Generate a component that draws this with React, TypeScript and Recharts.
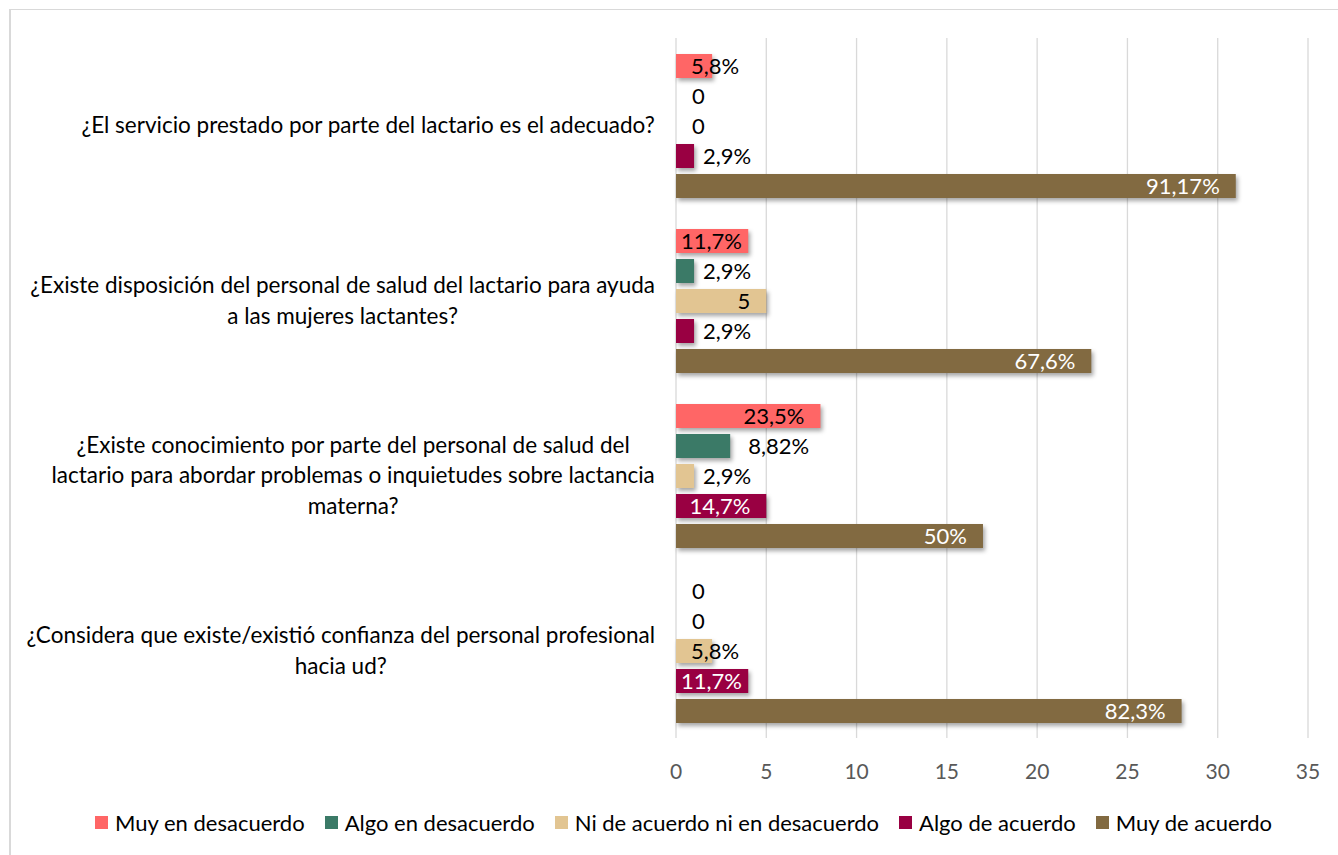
import React from 'react';
import { BarChart, Bar, XAxis, YAxis, CartesianGrid, Legend, LabelList } from 'recharts';

const categories = [
  '¿El servicio prestado por parte del lactario es el adecuado?',
  '¿Existe disposición del personal de salud del lactario para ayuda\na las mujeres lactantes?',
  '¿Existe conocimiento por parte del personal de salud del\nlactario para abordar problemas o inquietudes sobre lactancia\nmaterna?',
  '¿Considera que existe/existió confianza del personal profesional\nhacia ud?',
];

const muyDesacuerdo = [2, 4, 8, 0];
const algoDesacuerdo = [0, 1, 3, 0];
const niNi = [0, 5, 1, 2];
const algoAcuerdo = [1, 1, 5, 4];
const muyAcuerdo = [31, 23, 17, 28];

const muyDesacuerdoLabels = ['5,8%', '11,7%', '23,5%', '0'];
const algoDesacuerdoLabels = ['0', '2,9%', '8,82%', '0'];
const niNiLabels = ['0', '5', '2,9%', '5,8%'];
const algoAcuerdoLabels = ['2,9%', '2,9%', '14,7%', '11,7%'];
const muyAcuerdoLabels = ['91,17%', '67,6%', '50%', '82,3%'];

const xTicks = [0, 5, 10, 15, 20, 25, 30, 35];

const series = [
  { key: 'md', name: 'Muy en desacuerdo', color: '#FF6666', values: muyDesacuerdo, labels: muyDesacuerdoLabels, inside: '#000000' },
  { key: 'ad', name: 'Algo en desacuerdo', color: '#3B7A67', values: algoDesacuerdo, labels: algoDesacuerdoLabels, inside: '#000000' },
  { key: 'ni', name: 'Ni de acuerdo ni en desacuerdo', color: '#E2C592', values: niNi, labels: niNiLabels, inside: '#000000' },
  { key: 'aa', name: 'Algo de acuerdo', color: '#990042', values: algoAcuerdo, labels: algoAcuerdoLabels, inside: '#FFFFFF' },
  { key: 'ma', name: 'Muy de acuerdo', color: '#826A41', values: muyAcuerdo, labels: muyAcuerdoLabels, inside: '#FFFFFF' },
];

const data = categories.map((name, i) => {
  const row: any = { name };
  series.forEach((s) => { row[s.key] = s.values[i]; });
  return row;
});

const FONT = 'Lato, "Open Sans", sans-serif';
const FS = 22.5;
const LFS = 22;
const TFS = 21;
const LEGFS = 22;

let ctx: CanvasRenderingContext2D | null = null;
function tw(s: string, size = FS) {
  if (!ctx) ctx = document.createElement('canvas').getContext('2d');
  if (!ctx) return s.length * size * 0.5;
  ctx.font = `${size}px Lato`;
  return ctx.measureText(s).width;
}

function CatTick(props: any) {
  const { x, y, payload } = props;
  const lines = String(payload.value).split('\n');
  const maxW = Math.max(...lines.map((l) => tw(l)));
  const cx = x - 21 - maxW / 2;
  const lh = 30.5;
  const y0 = y - ((lines.length - 1) * lh) / 2;
  return (
    <text x={cx} y={y0} textAnchor="middle" fontFamily={FONT} fontSize={FS} fill="#000">
      {lines.map((l, i) => (
        <tspan key={i} x={cx} y={y0 + i * lh} dy="0.35em">{l}</tspan>
      ))}
    </text>
  );
}

function makeLabel(labels: string[], insideColor: string) {
  return (props: any) => {
    const vb = props.viewBox && props.viewBox.width !== undefined ? props.viewBox : props;
    const x = Number(vb.x);
    const y = Number(vb.y);
    const width = Number(vb.width) || 0;
    const height = Number(vb.height) || 0;
    const text = labels[props.index];
    const w = tw(text, LFS);
    const end = x + width;
    let tx: number;
    let fill = '#000';
    if (width < 1) tx = end + 16;
    else if (width < 25) tx = end + 9;
    else if (width < 45) tx = end + 3 - w / 2;
    else if (width < w + 10) tx = end + 18;
    else {
      tx = Math.max(x + 5, end - 16 - w);
      fill = insideColor;
    }
    return (
      <text x={tx} y={y + height / 2} dy="0.35em" fill={fill} fontFamily={FONT} fontSize={LFS}>
        {text}
      </text>
    );
  };
}

const ShadowRect = (props: any) => {
  const { x, y, width, height, fill } = props;
  if (!width || width <= 0) return null;
  return (
    <rect x={x} y={y} width={width} height={height} fill={fill}
      style={{ filter: 'drop-shadow(2px 3px 2px rgba(0,0,0,0.35))' }} />
  );
};

const LegendContent = () => (
  <div style={{ display: 'flex', justifyContent: 'center', alignItems: 'center', height: 34, paddingLeft: 59, gap: 20, fontFamily: FONT, fontSize: LEGFS, color: '#000', whiteSpace: 'nowrap' }}>
    {series.map((s) => (
      <div key={s.key} style={{ display: 'flex', alignItems: 'center' }}>
        <span style={{ display: 'inline-block', width: 13, height: 13, background: s.color, marginRight: 7 }} />
        <span>{s.name}</span>
      </div>
    ))}
  </div>
);

export default function App() {
  return (
    <div style={{ position: 'fixed', left: 0, top: 0, width: 1338, height: 855, overflow: 'hidden', background: '#fff' }}>
      <div style={{ position: 'absolute', left: 9, top: 9, width: 1500, height: 1000, borderLeft: '2px solid #D9D9D9', borderTop: '1px solid #D9D9D9' }} />
      <div style={{ position: 'absolute', left: 0, top: 0 }}>
        <BarChart
          width={1338}
          height={855}
          data={data}
          layout="vertical"
          margin={{ top: 38, right: 30, bottom: 16, left: 0 }}
          barSize={24}
          barGap={6}
        >
          <CartesianGrid horizontal={false} stroke="#D9D9D9" strokeWidth={1.3} />
          <XAxis
            type="number"
            domain={[0, 35]}
            ticks={xTicks}
            axisLine={false}
            tickLine={false}
            tickSize={0}
            tickMargin={26}
            height={67}
            interval={0}
            tick={{ fill: '#595959', fontSize: TFS, fontFamily: FONT }}
          />
          <YAxis
            type="category"
            dataKey="name"
            width={676}
            axisLine={false}
            tickLine={false}
            tickSize={0}
            tickMargin={0}
            interval={0}
            tick={<CatTick />}
          />
          <Legend verticalAlign="bottom" align="center" content={<LegendContent />} />
          {series.map((s) => (
            <Bar key={s.key} dataKey={s.key} name={s.name} fill={s.color} isAnimationActive={false} shape={<ShadowRect />}>
              <LabelList dataKey={s.key} content={makeLabel(s.labels, s.inside)} />
            </Bar>
          ))}
        </BarChart>
      </div>
    </div>
  );
}
